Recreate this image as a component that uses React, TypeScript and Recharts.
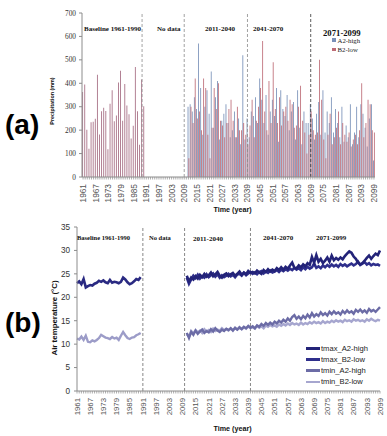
import React from "react";
import { Bar, BarChart, Legend, Line, LineChart, ReferenceLine, XAxis, YAxis } from "recharts";

const firstYear = 1961;
const lastYear = 2099;
const scenarioStart = 2011;
const years = Array.from({ length: lastYear - firstYear + 1 }, (_, i) => firstYear + i);

// precipitation (mm)
const precipBaseline = [363, 395, 202, 121, 234, 236, 249, 436, 181, 281, 296, 282, 118, 313, 370, 238, 263, 403, 454, 240, 397, 305, 268, 164, 219, 470, 281, 138, 416, 302];
const precipA2 = [
  300, 310, 280, 340, 290, 570, 380, 180, 300, 370,
  270, 450, 210, 340, 410, 160, 240, 270, 310, 230,
  170, 200, 280, 170, 250, 140, 520, 160, 250, 170,
  280, 260, 340, 230, 420, 330, 230, 350, 180, 280,
  330, 260, 380, 150, 370, 290, 260, 350, 200, 280,
  320, 160, 370, 210, 140, 280, 230, 230, 310, 250,
  160, 270, 320, 180, 370, 190, 280, 230, 340, 190,
  290, 230, 170, 300, 150, 220, 170, 310, 140, 190,
  300, 170, 310, 270, 210, 130, 250, 310, 70,
];
const precipB2 = [
  80, 300, 230, 420, 250, 280, 200, 420, 380, 180,
  80, 210, 380, 290, 400, 240, 220, 170, 230, 290,
  330, 240, 170, 300, 200, 200, 230, 180, 140, 220,
  330, 170, 240, 300, 380, 580, 280, 200, 410, 230,
  490, 290, 230, 340, 220, 280, 300, 240, 330, 310,
  210, 220, 300, 390, 240, 190, 100, 180, 280, 200,
  180, 190, 500, 330, 160, 80, 180, 270, 140, 170,
  210, 280, 140, 230, 180, 150, 190, 130, 160, 180,
  140, 200, 400, 170, 230, 330, 310, 200, 190,
];

// air temperature (°C)
const tmaxBaseline = [23.0, 23.4, 22.8, 23.9, 22.1, 22.4, 22.6, 22.5, 22.9, 23.1, 23.5, 23.3, 23.6, 23.2, 23.0, 23.7, 23.1, 23.3, 23.2, 23.0, 23.3, 24.2, 23.8, 23.2, 22.8, 23.0, 23.4, 23.9, 23.7, 24.3];
const tminBaseline = [11.2, 11.0, 11.6, 10.9, 11.8, 10.5, 10.4, 10.8, 10.6, 10.9, 11.3, 12.0, 11.7, 11.4, 11.3, 11.1, 11.5, 11.2, 11.4, 10.9, 11.8, 12.6, 11.9, 11.3, 11.1, 11.4, 11.5, 11.9, 12.1, 12.4];
const tmaxA2 = [
  24.6, 23.4, 24.2, 23.8, 24.5, 24.0, 24.8, 24.3, 25.0, 24.4,
  24.7, 25.3, 24.5, 24.9, 25.4, 24.6, 24.2, 24.8, 25.1, 24.5,
  24.9, 25.2, 24.6, 25.0, 25.5, 24.8, 25.3, 24.9, 25.6, 25.2,
  25.4, 25.1, 25.7, 25.3, 25.0, 25.8, 25.4, 26.0, 25.5, 25.9,
  25.6, 26.2, 25.8, 26.4, 25.9, 26.5, 26.1, 26.8, 27.4, 26.3,
  26.2, 26.8, 26.4, 27.0, 26.6, 27.3, 26.9, 28.6, 27.4, 29.0,
  27.6, 28.2, 27.3, 27.8, 28.5, 27.6, 28.9, 27.9, 28.4, 28.0,
  28.5, 28.1, 28.8, 29.3, 29.8, 29.5, 28.7, 28.2, 27.4, 27.0,
  27.3, 27.8, 28.4, 28.9, 28.2, 28.8, 29.3, 29.0, 30.0,
];
const tmaxB2 = [
  24.2, 22.9, 23.8, 24.6, 24.1, 24.8, 24.0, 24.5, 24.2, 24.9,
  24.3, 24.7, 25.1, 24.4, 24.9, 24.2, 24.7, 24.3, 24.6, 25.0,
  24.5, 24.8, 24.3, 24.9, 25.0, 24.6, 25.2, 24.7, 25.1, 25.4,
  25.0, 25.3, 24.9, 25.4, 25.6, 25.1, 25.5, 25.2, 25.7, 25.3,
  25.5, 25.8, 25.4, 25.9, 25.6, 26.0, 25.7, 26.1, 25.8, 26.3,
  25.9, 26.2, 25.8, 26.4, 26.0, 26.5, 26.1, 26.4, 27.2, 26.3,
  26.6, 26.2, 26.8, 26.4, 26.9, 26.5, 27.0, 26.6, 26.9, 26.5,
  27.1, 26.7, 27.0, 26.6, 26.9, 27.2, 26.8, 27.1, 27.6, 26.9,
  27.2, 27.5, 27.0, 27.3, 26.8, 27.1, 26.9, 27.0, 26.7,
];
const tminA2 = [
  12.4, 11.3, 12.6, 12.0, 12.9, 12.2, 12.7, 13.1, 12.4, 12.8,
  12.5, 13.2, 12.7, 13.4, 12.9, 12.6, 13.1, 12.8, 13.3, 13.0,
  13.4, 12.9, 13.5, 13.1, 13.6, 13.2, 13.7, 13.4, 13.9, 13.5,
  13.8, 13.4, 14.0, 13.7, 14.3, 13.9, 14.5, 14.1, 14.6, 14.2,
  14.8, 14.4, 15.0, 14.6, 15.2, 14.8, 15.5, 15.0, 15.8, 16.2,
  15.4, 15.9, 15.3, 16.0, 15.5, 16.3, 15.7, 16.6, 15.9, 16.4,
  16.0, 16.8, 16.2, 16.6, 16.1, 16.9, 16.4, 17.0, 16.5, 16.8,
  16.3, 17.1, 16.6, 17.2, 16.7, 17.0, 16.5, 17.3, 16.9, 17.4,
  16.8, 17.2, 16.7, 17.5, 17.0, 17.3, 16.9, 17.4, 17.9,
];
const tminB2 = [
  12.1, 11.6, 12.8, 12.3, 13.0, 12.5, 12.9, 12.4, 13.2, 12.7,
  13.0, 12.6, 13.3, 12.8, 13.1, 12.9, 13.4, 13.0, 13.2, 12.9,
  13.3, 13.0, 13.4, 13.1, 13.5, 13.2, 13.6, 13.3, 13.8, 13.4,
  13.6, 13.3, 13.9, 13.5, 13.8, 13.4, 14.0, 13.7, 14.1, 13.8,
  14.0, 13.7, 14.2, 13.9, 14.3, 14.0, 14.4, 14.1, 14.5, 14.2,
  14.4, 14.1, 14.6, 14.2, 14.5, 14.3, 14.7, 14.4, 14.8, 14.5,
  14.7, 14.4, 14.9, 14.5, 14.8, 14.6, 15.0, 14.7, 15.1, 14.8,
  15.0, 14.7, 15.2, 14.9, 15.1, 14.8, 15.3, 15.0, 15.2, 14.9,
  15.1, 14.8, 15.3, 15.0, 15.4, 15.1, 14.9, 15.2, 15.0,
];

const precipTicks = [0, 100, 200, 300, 400, 500, 600, 700];
const tempTicks = [0, 5, 10, 15, 20, 25, 30, 35];
const precipDividers = [1989, 2009, 2039, 2069];
const tempDividers = [1991, 2010, 2040];

const precipLegend = [
  { label: "A2-high", color: "#7890b8" },
  { label: "B2-low", color: "#bd6b76" },
];
const tempLegend = [
  { label: "tmax_A2-high", color: "#232378" },
  { label: "tmax_B2-low", color: "#2f2f8c" },
  { label: "tmin_A2-high", color: "#6c6ca6" },
  { label: "tmin_B2-low", color: "#a6a6cf" },
];

const pick = (arr: number[], year: number, start: number) => {
  const i = year - start;
  return i >= 0 && i < arr.length ? arr[i] : null;
};

const precipRows = years.map((year) => ({
  year,
  baseline: pick(precipBaseline, year, firstYear),
  a2: pick(precipA2, year, scenarioStart),
  b2: pick(precipB2, year, scenarioStart),
}));

const tempRows = years.map((year) => ({
  year,
  obsTmax: pick(tmaxBaseline, year, firstYear),
  obsTmin: pick(tminBaseline, year, firstYear),
  tmaxA2: pick(tmaxA2, year, scenarioStart),
  tmaxB2: pick(tmaxB2, year, scenarioStart),
  tminA2: pick(tminA2, year, scenarioStart),
  tminB2: pick(tminB2, year, scenarioStart),
}));

const sans = "'Liberation Sans', Arial, sans-serif";
const serif = "'Liberation Serif', 'Times New Roman', serif";

function YearTick(props: any) {
  const { x, y, payload, index, fontSize, gap } = props;
  const show = index % 6 === 0;
  return (
    <g>
      <line x1={x} x2={x} y1={y} y2={y + 2.5} stroke="#8c8c8c" strokeWidth={0.7} />
      {show && (
        <text
          x={x}
          y={y + gap}
          transform={`rotate(-90 ${x} ${y + gap})`}
          textAnchor="end"
          dy="0.36em"
          fontSize={fontSize}
          fill="#555"
          fontFamily={sans}
        >
          {payload.value}
        </text>
      )}
    </g>
  );
}

function Note({ left, top, size, children }: { left: number; top: number; size: number; children: React.ReactNode }) {
  return (
    <div
      style={{
        position: "absolute",
        left,
        top,
        fontSize: size,
        lineHeight: 1,
        fontWeight: 700,
        fontFamily: serif,
        whiteSpace: "nowrap",
        color: "#111",
      }}
    >
      {children}
    </div>
  );
}

function PanelTag({ top, children }: { top: number; children: React.ReactNode }) {
  return (
    <div style={{ position: "absolute", left: 5, top, fontSize: 28, lineHeight: 1, fontWeight: 700, fontFamily: sans }}>
      {children}
    </div>
  );
}

function yTitle(text: string, size: number, dx: number, dy: number) {
  return (props: any) => {
    const vb = props.viewBox || { x: 0, y: 0, width: 0, height: 0 };
    const cx = vb.x + dx;
    const cy = vb.y + vb.height / 2 + dy;
    return (
      <text x={cx} y={cy} transform={`rotate(-90 ${cx} ${cy})`} textAnchor="middle" dy="0.35em" fontSize={size} fontWeight={700} fontFamily={sans} fill="#111">
        {text}
      </text>
    );
  };
}

function xTitle(text: string, size: number, dx: number, dy: number) {
  return (props: any) => {
    const vb = props.viewBox || { x: 0, y: 0, width: 0, height: 0 };
    return (
      <text x={vb.x + vb.width / 2 + dx} y={vb.y + dy} textAnchor="middle" dy="0.35em" fontSize={size} fontWeight={700} fontFamily={sans} fill="#111">
        {text}
      </text>
    );
  };
}

function PrecipLegend() {
  return (
    <div style={{ fontFamily: serif, fontSize: 6.8, lineHeight: "9.3px", color: "#222" }}>
      {precipLegend.map((item) => (
        <div key={item.label} style={{ display: "flex", alignItems: "center", whiteSpace: "nowrap" }}>
          <span style={{ display: "inline-block", width: 3.5, height: 3.5, background: item.color, marginRight: 2 }} />
          {item.label}
        </div>
      ))}
    </div>
  );
}

function TempLegend() {
  return (
    <div style={{ fontFamily: sans, fontSize: 7.6, lineHeight: "11.1px", color: "#222" }}>
      {tempLegend.map((item) => (
        <div key={item.label} style={{ display: "flex", alignItems: "center", whiteSpace: "nowrap" }}>
          <span style={{ display: "inline-block", width: 14, height: 2.5, background: item.color, marginRight: 1 }} />
          {item.label}
        </div>
      ))}
    </div>
  );
}

export default function App() {
  return (
    <div style={{ position: "absolute", left: 0, top: 0, width: 387, height: 436, background: "#fff", overflow: "hidden" }}>
      <div style={{ position: "absolute", left: 0, top: 0 }}>
        <BarChart
          width={387}
          height={215}
          data={precipRows}
          margin={{ top: 13, right: 12, bottom: 13, left: 52 }}
          barCategoryGap="10%"
          barGap={0}
        >
          <XAxis
            dataKey="year"
            interval={0}
            tickSize={0}
            tickMargin={0}
            tickLine={false}
            height={25}
            stroke="#8c8c8c"
            tick={(p: any) => <YearTick {...p} fontSize={8.3} gap={7} />}
            label={xTitle("Time (year)", 7.2, 4, 32)}
          />
          <XAxis xAxisId="frame" orientation="top" dataKey="year" height={0} tick={false} tickLine={false} stroke="#8c8c8c" />
          <YAxis
            domain={[0, 700]}
            ticks={precipTicks}
            width={30}
            tickSize={3}
            tickMargin={3}
            stroke="#8c8c8c"
            tick={{ fontSize: 7.3, fontFamily: serif, fill: "#333" }}
            label={yTitle("Precipitation (mm)", 5.4, 0, 6)}
          />
          <YAxis yAxisId="frame" orientation="right" width={0} domain={[0, 1]} tick={false} tickLine={false} stroke="#8c8c8c" />
          {precipDividers.map((year, i) => (
            <ReferenceLine
              key={year}
              x={year}
              stroke={i === 3 ? "#333" : "#8a8a8a"}
              strokeWidth={0.8}
              strokeDasharray="3 2"
            />
          ))}
          <Bar dataKey="baseline" stackId="s1" fill="#a46a80" isAnimationActive={false} />
          <Bar dataKey="a2" stackId="s1" fill={precipLegend[0].color} isAnimationActive={false} />
          <Bar dataKey="b2" stackId="s2" fill={precipLegend[1].color} isAnimationActive={false} />
          <Legend
            layout="vertical"
            align="center"
            verticalAlign="middle"
            wrapperStyle={{ top: 35.5, left: 332, width: 50 }}
            content={() => <PrecipLegend />}
          />
        </BarChart>
      </div>

      <div style={{ position: "absolute", left: 0, top: 215 }}>
        <LineChart width={387} height={221} data={tempRows} margin={{ top: 12, right: 7, bottom: 20, left: 47 }}>
          <XAxis
            dataKey="year"
            interval={0}
            tickSize={0}
            tickMargin={0}
            tickLine={false}
            height={25}
            stroke="#8c8c8c"
            tick={(p: any) => <YearTick {...p} fontSize={7.8} gap={7} />}
            label={xTitle("Time (year)", 7.2, 4, 37)}
          />
          <XAxis xAxisId="frame" orientation="top" dataKey="year" height={0} tick={false} tickLine={false} stroke="#8c8c8c" />
          <YAxis
            domain={[0, 35]}
            ticks={tempTicks}
            width={30}
            tickSize={3}
            tickMargin={4}
            stroke="#8c8c8c"
            tick={{ fontSize: 8.2, fontFamily: sans, fill: "#333" }}
            label={yTitle("Air temperature (°C)", 7.9, 7.5, 9)}
          />
          <YAxis yAxisId="frame" orientation="right" width={0} domain={[0, 1]} tick={false} tickLine={false} stroke="#8c8c8c" />
          {tempDividers.map((year) => (
            <ReferenceLine key={year} x={year} stroke="#6a6a6a" strokeWidth={0.8} strokeDasharray="3 2" />
          ))}
          <Line dataKey="tminB2" stroke={tempLegend[3].color} strokeWidth={2.4} dot={false} isAnimationActive={false} />
          <Line dataKey="tminA2" stroke={tempLegend[2].color} strokeWidth={2.4} dot={false} isAnimationActive={false} />
          <Line dataKey="obsTmin" stroke="#9c9cc8" strokeWidth={2.4} dot={false} isAnimationActive={false} />
          <Line dataKey="tmaxB2" stroke={tempLegend[1].color} strokeWidth={2.6} dot={false} isAnimationActive={false} />
          <Line dataKey="tmaxA2" stroke={tempLegend[0].color} strokeWidth={2.6} dot={false} isAnimationActive={false} />
          <Line dataKey="obsTmax" stroke="#2a2a82" strokeWidth={2.6} dot={false} isAnimationActive={false} />
          <Legend
            layout="vertical"
            align="center"
            verticalAlign="middle"
            wrapperStyle={{ top: 128, left: 306, width: 70 }}
            content={() => <TempLegend />}
          />
        </LineChart>
      </div>

      <Note left={84} top={26} size={7}>Baseline 1961-1990</Note>
      <Note left={157} top={26} size={7}>No data</Note>
      <Note left={205} top={26} size={7}>2011-2040</Note>
      <Note left={253} top={26} size={7}>2041-2070</Note>
      <Note left={323} top={28.5} size={8.7}>2071-2099</Note>

      <Note left={77} top={234.5} size={6.5}>Baseline 1961-1990</Note>
      <Note left={149} top={235} size={6.5}>No data</Note>
      <Note left={193} top={235.5} size={7}>2011-2040</Note>
      <Note left={263} top={235} size={7}>2041-2070</Note>
      <Note left={316} top={235} size={7}>2071-2099</Note>

      <PanelTag top={111}>(a)</PanelTag>
      <PanelTag top={309}>(b)</PanelTag>
    </div>
  );
}
